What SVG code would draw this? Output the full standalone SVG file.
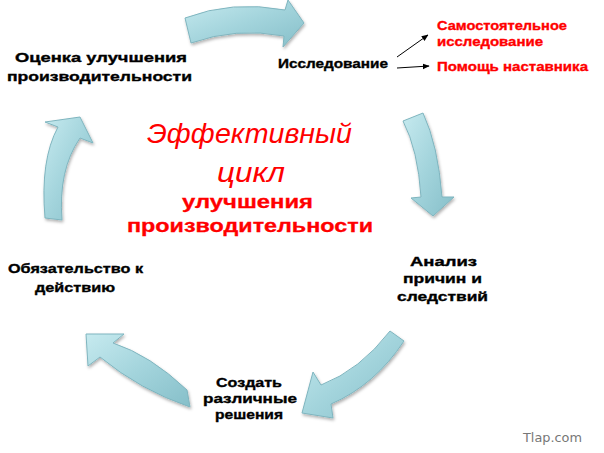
<svg xmlns="http://www.w3.org/2000/svg" width="604" height="453" viewBox="0 0 604 453">
<defs>
<linearGradient id="g" x1="0" y1="0" x2="1" y2="1">
<stop offset="0" stop-color="#c6eaef"/>
<stop offset="0.5" stop-color="#a3d4dc"/>
<stop offset="1" stop-color="#86bfc9"/>
</linearGradient>
<filter id="sh" x="-20%" y="-20%" width="140%" height="140%">
<feDropShadow dx="1" dy="2" stdDeviation="1.5" flood-color="#000" flood-opacity="0.3"/>
</filter>
<marker id="ah" viewBox="0 0 10 10" refX="9" refY="5" markerWidth="7" markerHeight="7" orient="auto" markerUnits="userSpaceOnUse">
<path d="M0,1 L10,5 L0,9 Z" fill="#000"/>
</marker>
<style>
.big{fill:url(#g);stroke:#7fb5bf;stroke-width:1;filter:url(#sh)}
.b{font-family:"Liberation Sans",Arial,sans-serif;font-weight:bold;font-size:13px;fill:#000;stroke:#000;stroke-width:0.35}
.r{font-family:"Liberation Sans",Arial,sans-serif;font-weight:bold;font-size:13px;fill:#f00;stroke:#f00;stroke-width:0.35}
.rb{font-family:"Liberation Sans",Arial,sans-serif;font-weight:bold;font-size:18px;fill:#f00;stroke:#f00;stroke-width:0.3}
.ri{font-family:"Liberation Sans",Arial,sans-serif;font-style:italic;font-size:28px;fill:#f00}
.w{font-family:"DejaVu Sans",sans-serif;font-size:13px;fill:#777}
.thin{stroke:#000;stroke-width:1;fill:none}
</style>
</defs>
<rect width="604" height="453" fill="#fff"/>
<g id="connectors">
<path class="big" d="M185,18 Q232,0 285,10 L288,0 L304,23 L283,47 L284,36 Q236,27 191,43 Z"/>
<path class="big" d="M403,121 Q418,150 421,197 L411,198 L433,216 L454,197 L442,197 Q438,145 423,113 Z"/>
<path class="big" d="M390,331 Q360,370 321,385 L313,372 L302,413 L333,418 L331,404 Q375,385 404,341 Z"/>
<path class="big" d="M187,390 Q150,355 113,343 L124,334 L86,334 L88,366 L100,357 Q140,390 190,407 Z"/>
<path class="big" d="M45,218 Q40,160 58,127 L45,122 L80,117 L93,143 L80,138 Q58,170 62,220 Z"/>
<path class="thin" d="M397,57 L428,35" marker-end="url(#ah)"/>
<path class="thin" d="M397,68 L429,66" marker-end="url(#ah)"/>
</g>
<g id="title">
<text class="ri" x="147" y="143" textLength="205" lengthAdjust="spacingAndGlyphs">Эффективный</text>
<text class="ri" x="217" y="182" textLength="68" lengthAdjust="spacingAndGlyphs">цикл</text>
<text class="rb" x="182" y="208" textLength="131" lengthAdjust="spacingAndGlyphs">улучшения</text>
<text class="rb" x="127" y="232" textLength="246" lengthAdjust="spacingAndGlyphs">производительности</text>
</g>
<g id="node-research">
<text class="b" x="278" y="68" textLength="110" lengthAdjust="spacingAndGlyphs">Исследование</text>
</g>
<g id="node-self">
<text class="r" x="437" y="30" textLength="130" lengthAdjust="spacingAndGlyphs">Самостоятельное</text>
<text class="r" x="437" y="46" textLength="106" lengthAdjust="spacingAndGlyphs">исследование</text>
</g>
<g id="node-mentor">
<text class="r" x="437" y="71" textLength="151" lengthAdjust="spacingAndGlyphs">Помощь наставника</text>
</g>
<g id="node-analysis">
<text class="b" x="410" y="266" textLength="67" lengthAdjust="spacingAndGlyphs">Анализ</text>
<text class="b" x="403" y="283" textLength="79" lengthAdjust="spacingAndGlyphs">причин и</text>
<text class="b" x="397" y="301" textLength="91" lengthAdjust="spacingAndGlyphs">следствий</text>
</g>
<g id="node-solutions">
<text class="b" x="216" y="387" textLength="66" lengthAdjust="spacingAndGlyphs">Создать</text>
<text class="b" x="203" y="403" textLength="94" lengthAdjust="spacingAndGlyphs">различные</text>
<text class="b" x="215" y="419" textLength="68" lengthAdjust="spacingAndGlyphs">решения</text>
</g>
<g id="node-commit">
<text class="b" x="8" y="273" textLength="135" lengthAdjust="spacingAndGlyphs">Обязательство к</text>
<text class="b" x="35" y="292" textLength="80" lengthAdjust="spacingAndGlyphs">действию</text>
</g>
<g id="node-evaluate">
<text class="b" x="15" y="62" textLength="172" lengthAdjust="spacingAndGlyphs">Оценка улучшения</text>
<text class="b" x="7" y="81" textLength="185" lengthAdjust="spacingAndGlyphs">производительности</text>
</g>
<g id="watermark">
<text class="w" x="523" y="442" textLength="59" lengthAdjust="spacingAndGlyphs">Tlap.com</text>
</g>
</svg>
